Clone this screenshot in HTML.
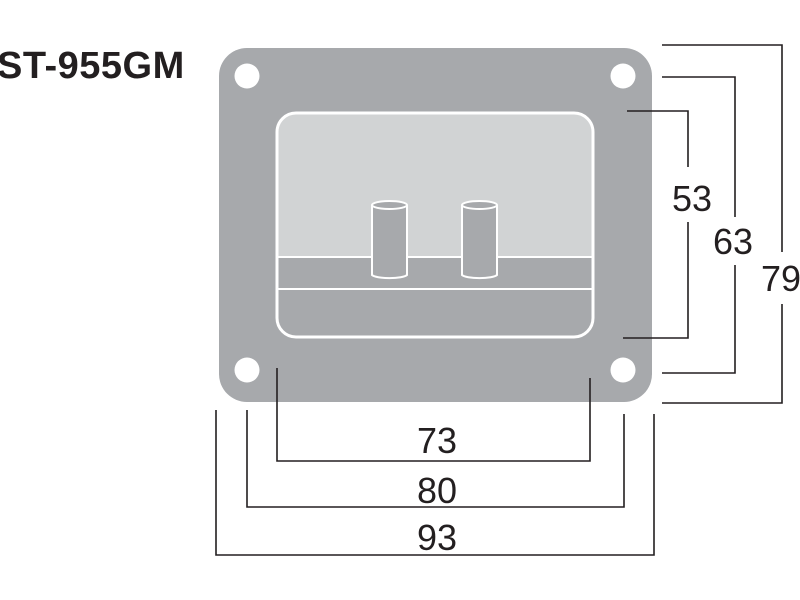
<!DOCTYPE html>
<html><head><style>html,body{margin:0;padding:0;background:#fff}svg{display:block}</style></head>
<body>
<svg width="800" height="600" viewBox="0 0 800 600" xmlns="http://www.w3.org/2000/svg">
<rect x="0" y="0" width="800" height="600" fill="#fff"/>
<text x="-3" y="78" font-family="Liberation Sans, sans-serif" font-weight="bold" font-size="38" letter-spacing="0.5" fill="#231f20">ST-955GM</text>
<rect x="219" y="48" width="433" height="354" rx="28" fill="#a7a9ac"/>
<g fill="#fff"><circle cx="247" cy="76" r="12.5"/><circle cx="623" cy="76" r="12.5"/><circle cx="247" cy="370" r="12.5"/><circle cx="623" cy="370" r="12.5"/></g>
<clipPath id="c"><rect x="277" y="113" width="316" height="224" rx="19"/></clipPath>
<g clip-path="url(#c)"><rect x="277" y="113" width="316" height="144" fill="#d1d3d4"/><rect x="277" y="257" width="316" height="82" fill="#a7a9ac"/></g>
<line x1="277" y1="257" x2="593" y2="257" stroke="#fff" stroke-width="2"/>
<line x1="277" y1="289" x2="593" y2="289" stroke="#fff" stroke-width="2"/>
<rect x="277" y="113" width="316" height="224" rx="19" fill="none" stroke="#fff" stroke-width="3"/>
<g stroke="#fff" stroke-width="2" fill="#a7a9ac">
<path d="M372,205 V275 A18,4 0 0 0 407,275 V205"/><ellipse cx="389.5" cy="205" rx="17.5" ry="4"/>
<path d="M462,205 V275 A18,4 0 0 0 497,275 V205"/><ellipse cx="479.5" cy="205" rx="17.5" ry="4"/>
</g>
<g stroke="#231f20" stroke-width="1.6" fill="none">
<path d="M627,111 H688 V167 M688,222 V338 H623"/>
<path d="M662,77 H735 V217 M735,265 V373 H662"/>
<path d="M662,45 H782 V252 M782,304 V403 H662"/>
<path d="M277,368 V461 H590 V378"/>
<path d="M247,410 V507 H624 V414"/>
<path d="M216,410 V555 H654 V414"/>
</g>
<g font-family="Liberation Sans, sans-serif" font-size="36" fill="#231f20" text-anchor="middle">
<text x="692" y="211">53</text>
<text x="733" y="254">63</text>
<text x="781" y="291">79</text>
<text x="437" y="453">73</text>
<text x="437" y="503">80</text>
<text x="437" y="550">93</text>
</g>
</svg>
</body></html>
